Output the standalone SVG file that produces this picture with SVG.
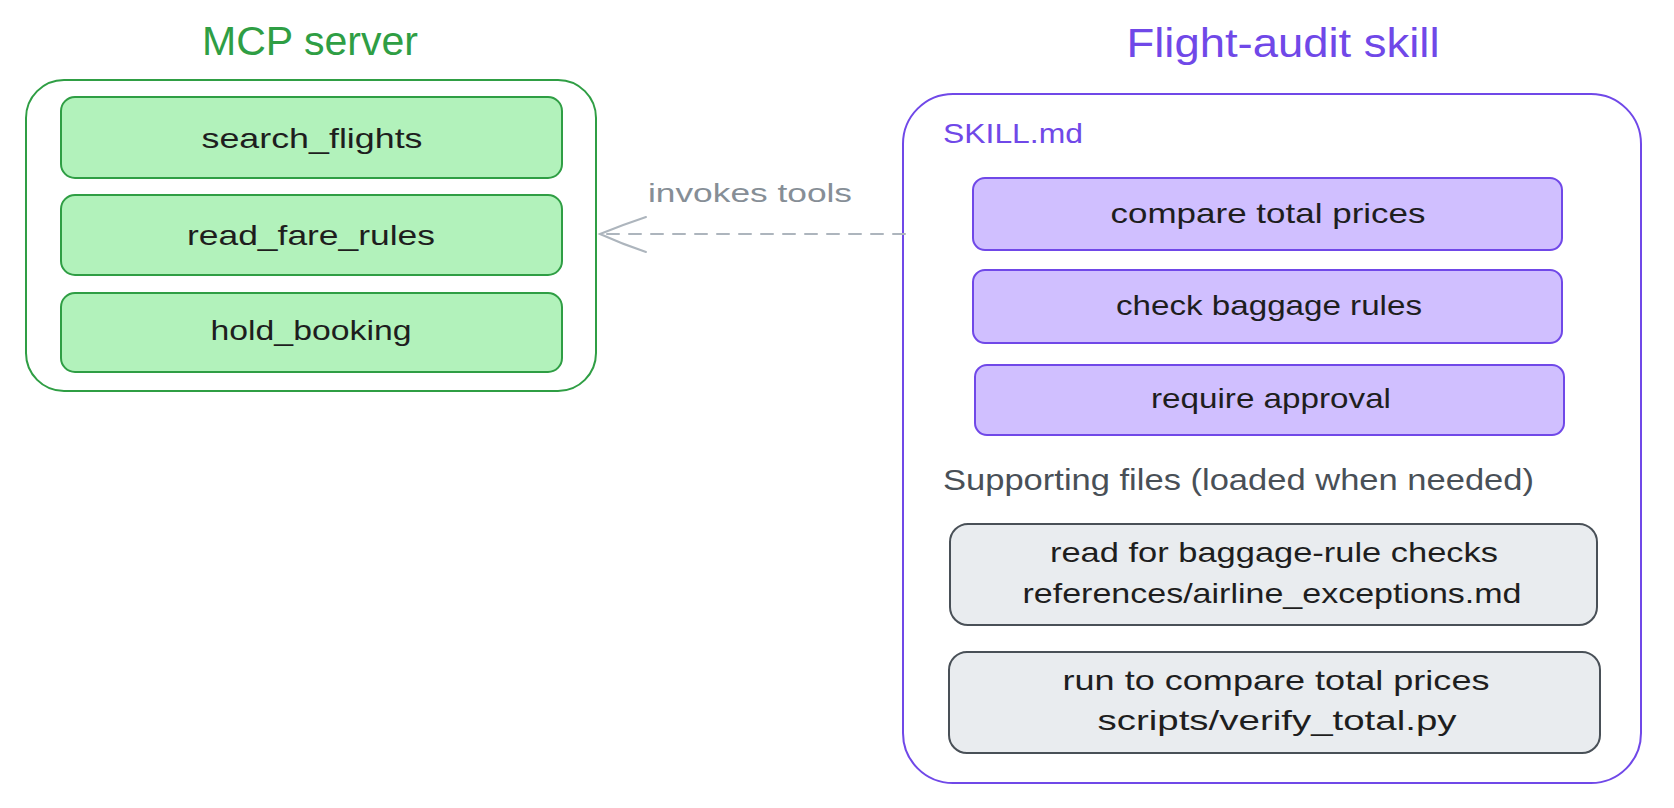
<svg xmlns="http://www.w3.org/2000/svg" width="1674" height="808" viewBox="0 0 1674 808">
<defs>
<style>
text{font-family:"Liberation Sans",Arial,sans-serif;}
.t{font-size:28px;fill:#1e1e1e;text-anchor:middle;}
.green{fill:#b2f2bb;stroke:#2f9e44;stroke-width:2;}
.purple{fill:#d0bfff;stroke:#7048e8;stroke-width:2;}
.gray{fill:#e9ecef;stroke:#495057;stroke-width:2;}
.title{font-size:40px;text-anchor:middle;}
</style>
</defs>
<rect width="1674" height="808" fill="#ffffff"/>
<g id="mcp-server">
<text class="title" x="310" y="55" fill="#2f9e44" textLength="216" lengthAdjust="spacingAndGlyphs">MCP server</text>
<rect x="26" y="80" width="570" height="311" rx="38" fill="none" stroke="#2f9e44" stroke-width="2"/>
</g>
<g id="search-flights">
<rect class="green" x="61" y="97" width="501" height="81" rx="14"/>
<text class="t" x="312" y="148" textLength="221" lengthAdjust="spacingAndGlyphs">search_flights</text>
</g>
<g id="read-fare-rules">
<rect class="green" x="61" y="195" width="501" height="80" rx="14"/>
<text class="t" x="311" y="245" textLength="248" lengthAdjust="spacingAndGlyphs">read_fare_rules</text>
</g>
<g id="hold-booking">
<rect class="green" x="61" y="293" width="501" height="79" rx="14"/>
<text class="t" x="311" y="340" textLength="201" lengthAdjust="spacingAndGlyphs">hold_booking</text>
</g>
<g id="flight-audit-skill">
<text class="title" x="1283" y="57" fill="#7048e8" textLength="313" lengthAdjust="spacingAndGlyphs">Flight-audit skill</text>
<rect x="903" y="94" width="738" height="689" rx="50" fill="none" stroke="#7048e8" stroke-width="2"/>
<text x="943" y="143" font-size="28" fill="#7048e8" textLength="140" lengthAdjust="spacingAndGlyphs">SKILL.md</text>
<text x="943" y="490" font-size="29" fill="#495057" textLength="591" lengthAdjust="spacingAndGlyphs">Supporting files (loaded when needed)</text>
</g>
<g id="compare-total-prices">
<rect class="purple" x="973" y="178" width="589" height="72" rx="12"/>
<text class="t" x="1268" y="223" textLength="315" lengthAdjust="spacingAndGlyphs">compare total prices</text>
</g>
<g id="check-baggage-rules">
<rect class="purple" x="973" y="270" width="589" height="73" rx="12"/>
<text class="t" x="1269" y="315" textLength="306" lengthAdjust="spacingAndGlyphs">check baggage rules</text>
</g>
<g id="require-approval">
<rect class="purple" x="975" y="365" width="589" height="70" rx="12"/>
<text class="t" x="1271" y="408" textLength="240" lengthAdjust="spacingAndGlyphs">require approval</text>
</g>
<g id="airline-exceptions">
<rect class="gray" x="950" y="524" width="647" height="101" rx="18"/>
<text class="t" x="1274" y="562" textLength="448" lengthAdjust="spacingAndGlyphs">read for baggage-rule checks</text>
<text class="t" x="1272" y="603" textLength="499" lengthAdjust="spacingAndGlyphs">references/airline_exceptions.md</text>
</g>
<g id="verify-total">
<rect class="gray" x="949" y="652" width="651" height="101" rx="18"/>
<text class="t" x="1276" y="690" textLength="427" lengthAdjust="spacingAndGlyphs">run to compare total prices</text>
<text class="t" x="1277" y="730" textLength="359" lengthAdjust="spacingAndGlyphs">scripts/verify_total.py</text>
</g>
<g id="connectors">
<line x1="905" y1="234" x2="601" y2="234" stroke="#adb5bd" stroke-width="2" stroke-dasharray="12 10" stroke-linecap="round"/>
<path d="M646 217 Q622 225 600 234 Q622 244 646 252" fill="none" stroke="#adb5bd" stroke-width="2" stroke-linecap="round"/>
<text x="648" y="202" font-size="26" fill="#868e96" textLength="204" lengthAdjust="spacingAndGlyphs">invokes tools</text>
</g>
</svg>
